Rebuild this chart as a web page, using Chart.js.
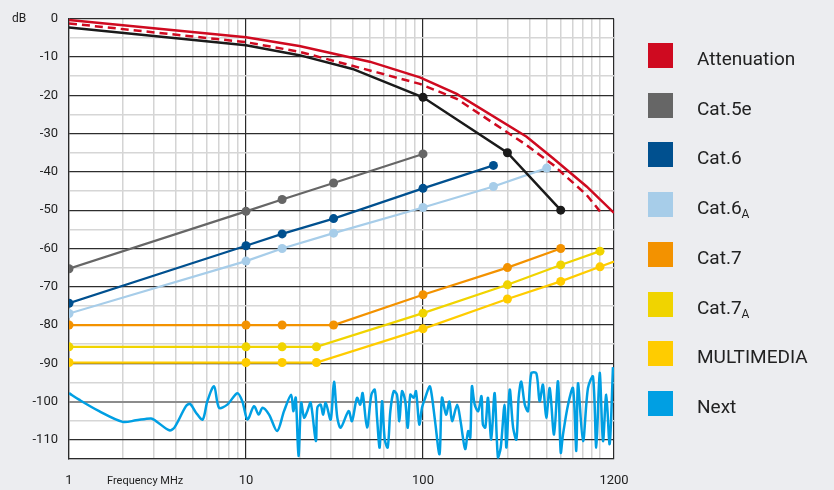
<!DOCTYPE html>
<html>
<head>
<meta charset="utf-8">
<script src="https://cdn.jsdelivr.net/npm/chart.js@4.4.1/dist/chart.umd.min.js"></script>
<style>
  body { margin: 0; background: #ecedf0; }
  #wrap { position: relative; width: 834px; height: 490px; }
  #legend { position: absolute; left: 0; top: 0; }
  .item { position: absolute; left: 648px; height: 25px; }
  .sw { position: absolute; left: 0; top: 0; width: 25px; height: 25px; }
  .lbl { position: absolute; left: 49px; top: 6px; font: 19px Roboto, sans-serif; color: #222; white-space: nowrap; line-height: 19px; }
  .lbl sub { font-size: 12px; vertical-align: -4px; line-height: 0; }
</style>
</head>
<body>
<div id="wrap">
  <canvas id="chart"></canvas>
  <div id="legend"></div>
</div>
<script>
// axes
const xGridValues = [1, 2, 3, 4, 5, 6, 7, 8, 9, 10, 20, 30, 40, 50, 60, 70, 80, 90, 100,
  200, 300, 400, 500, 600, 700, 800, 900, 1000, 1200];
const xTickLabels = [1, 10, 100, 1200];
const xTitle = "Frequency MHz";
const yUnit = "dB";

// attenuation (solid red), limit (dashed red), black curve
const attFreq = [1, 10, 20, 50, 96, 155, 385, 545, 840, 1200];
const attValues = [-0.3, -4.8, -7.1, -11.2, -15.3, -19.6, -30.8, -36.5, -43.8, -50.7];
const attLimitFreq = [1, 10, 20, 55, 96, 155, 385, 545, 840, 1000];
const attLimitValues = [-1.2, -6.1, -8.6, -14, -17, -20.9, -33, -38.2, -46, -50.3];
const blackFreq = [1, 10, 20, 40, 100, 300, 600];
const blackValues = [-2.3, -6.9, -9.5, -13.1, -20.5, -35, -50];

const cat5eFreq = [1, 10, 16, 31.25, 100];
const cat5eValues = [-65.3, -50.3, -47.2, -42.9, -35.3];
const cat6Freq = [1, 10, 16, 31.25, 100, 250];
const cat6Values = [-74.3, -59.3, -56.2, -52.2, -44.3, -38.3];
const cat6aFreq = [1, 10, 16, 31.25, 100, 250, 500];
const cat6aValues = [-77, -63.3, -60, -56, -49.3, -43.8, -39];
const cat7Freq = [1, 10, 16, 31.25, 100, 300, 600];
const cat7Values = [-80, -80, -80, -80, -72.1, -65, -60];
const cat7aFreq = [1, 10, 16, 25, 100, 300, 600, 1000];
const cat7aValues = [-85.7, -85.7, -85.7, -85.7, -76.9, -69.5, -64.3, -60.7];
const multiFreq = [1, 10, 16, 25, 100, 300, 600, 1000, 1200];
const multiValues = [-89.8, -89.8, -89.8, -89.8, -81, -73.2, -68.6, -64.8, -63.4];

const nextFreq = [
  1, 1.14, 1.48, 2.01, 2.39, 2.91, 3.1, 3.69, 3.94, 4.58,
  4.83, 5.22, 5.69, 6.05, 6.6, 7.04, 7.84, 8.93, 9.53, 10.2,
  11.1, 11.8, 12.4, 13.5, 15.0, 16.4, 18.0, 18.5, 19.1, 19.8,
  20.5, 21.3, 22.2, 23.2, 24.8, 25.3, 26.4, 27.3, 28.2, 30.1,
  31.4, 32.8, 34.3, 38.0, 39.7, 42.4, 44.2, 45.6, 48.3, 51.1,
  53.4, 55.0, 56.9, 58.7, 60.8, 63.2, 65.4, 68.3, 71.3, 73.5,
  76.1, 79.4, 82.0, 84.8, 88.6, 91.3, 95.3, 98.7, 103, 109,
  112, 117, 124, 128, 135, 141, 146, 156, 163, 173,
  180, 185, 189, 196, 205, 214, 218, 225, 233, 243,
  254, 265, 275, 289, 296, 309, 323, 337, 347, 359,
  376, 392, 409, 437, 456, 476, 497, 520, 550, 579,
  600, 618, 660, 704, 735, 751, 802, 855, 913, 953,
  996, 1040, 1085, 1134, 1184
];
const nextValues = [
  -97.8, -99.5, -102.5, -105.3, -104.9, -104.4, -105.1, -107.5, -106.8, -101.2,
  -100.6, -102.9, -104.7, -99.9, -96.0, -101.6, -100.8, -97.8, -99.9, -104.7,
  -101.2, -103.4, -101.6, -103.4, -107.7, -102.5, -98.2, -102.5, -99.0, -114.2,
  -100.3, -104.2, -102.5, -100.3, -110.3, -101.6, -100.8, -103.4, -100.3, -104.7,
  -94.8, -104.2, -106.8, -102.5, -105.1, -99.0, -100.8, -97.8, -106.8, -98.2,
  -96.9, -104.2, -112.0, -99.9, -109.9, -112.0, -102.5, -97.3, -98.2, -105.1,
  -97.3, -99.9, -106.8, -98.2, -99.0, -97.3, -106.0, -101.6, -99.0, -96.0,
  -98.2, -105.1, -113.7, -99.0, -103.4, -100.0, -105.1, -100.8, -105.1, -112.4,
  -107.7, -109.4, -96.0, -100.8, -102.5, -98.6, -106.0, -106.8, -99.0, -109.9,
  -97.8, -114.5, -112.0, -100.8, -112.0, -96.9, -106.8, -109.9, -99.0, -94.8,
  -100.8, -102.5, -92.6, -92.6, -99.9, -95.6, -104.2, -96.5, -108.6, -94.7,
  -113.3, -108.6, -100.8, -96.5, -112.9, -95.2, -110.3, -96.5, -93.5, -112.0,
  -92.5, -110.3, -98.2, -111.1, -91.0
];

const legendLabels = ["Attenuation", "Cat.5e", "Cat.6", "Cat.6", "Cat.7", "Cat.7", "MULTIMEDIA", "Next"];
const legendSubs = ["", "", "", "A", "", "A", "", ""];
const legendColors = ["#cf0a20", "#666666", "#00508f", "#a7cde9", "#f39200", "#f0d400", "#ffcc00", "#009fe3"];

function pts(xs, ys) {
  return xs.map(function (x, i) { return { x: x, y: ys[i] }; });
}

function series(data, color, opts) {
  return Object.assign({
    data: data,
    borderColor: color,
    backgroundColor: color,
    pointBackgroundColor: color,
    pointBorderWidth: 0,
    borderWidth: 2.2,
    pointRadius: 4.5,
    tension: 0,
    fill: false,
  }, opts || {});
}

const decor = {
  id: "decor",
  beforeDraw(chart) {
    const a = chart.chartArea;
    const ctx = chart.ctx;
    ctx.save();
    ctx.fillStyle = "#ffffff";
    ctx.fillRect(a.left, a.top, a.right - a.left, a.bottom - a.top);
    ctx.restore();
  },
  afterDraw(chart) {
    const ctx = chart.ctx;
    const a = chart.chartArea;
    ctx.save();
    ctx.fillStyle = "#1e1e1e";
    ctx.textBaseline = "middle";
    ctx.textAlign = "left";
    ctx.font = "12px Roboto";
    ctx.fillText(yUnit, 12, chart.scales.y.getPixelForValue(0));
    ctx.font = "11px Roboto";
    ctx.fillText(xTitle, a.left + 38, a.bottom + 22);
    ctx.restore();
  },
};

Chart.defaults.font.family = "Roboto";

new Chart(document.getElementById("chart"), {
  type: "line",
  data: {
    datasets: [
      series(pts(attFreq, attValues), "#cf0a20", { pointRadius: 0, borderWidth: 2.5 }),
      series(pts(attLimitFreq, attLimitValues), "#cf0a20", { pointRadius: 0, borderWidth: 2.5, borderDash: [8, 5] }),
      series(pts(blackFreq, blackValues), "#1a1a1a", {
        borderWidth: 2.5,
        pointRadius: function (c) { return c.dataIndex >= 4 ? 4.5 : 0; },
      }),
      series(pts(cat5eFreq, cat5eValues), "#666666"),
      series(pts(cat6Freq, cat6Values), "#00508f"),
      series(pts(cat6aFreq, cat6aValues), "#a7cde9"),
      series(pts(cat7Freq, cat7Values), "#f39200"),
      series(pts(cat7aFreq, cat7aValues), "#f0d400"),
      series(pts(multiFreq, multiValues), "#ffcc00", {
        pointRadius: function (c) { return c.dataIndex < 8 ? 4.5 : 0; },
      }),
      series(pts(nextFreq, nextValues), "#009fe3", { pointRadius: 0, borderWidth: 2.5, tension: 0.3 }),
    ],
  },
  options: {
    responsive: true,
    maintainAspectRatio: false,
    animation: false,
    events: [],
    layout: { padding: { left: 0, right: 220, top: 16, bottom: 0 } },
    plugins: { legend: { display: false }, tooltip: { enabled: false } },
    scales: {
      x: {
        type: "logarithmic",
        min: 1,
        max: 1200,
        afterBuildTicks: function (scale) {
          scale.ticks = xGridValues.map(function (v) { return { value: v }; });
        },
        afterFit: function (scale) { scale.height = 31; },
        ticks: {
          autoSkip: false,
          maxRotation: 0,
          padding: 14,
          color: "#1e1e1e",
          font: { size: 13 },
          callback: function (v) { return xTickLabels.indexOf(v) >= 0 ? String(v) : ""; },
        },
        grid: {
          drawTicks: false,
          color: function (c) { return xTickLabels.indexOf(c.tick.value) >= 0 ? "#2a2a2a" : "#d4d4d4"; },
          lineWidth: function (c) { return xTickLabels.indexOf(c.tick.value) >= 0 ? 1.2 : 1.5; },
        },
        border: { display: true, color: "#2a2a2a", width: 1.2 },
      },
      y: {
        min: -115,
        max: 0,
        afterFit: function (scale) { scale.width = 69; },
        ticks: {
          stepSize: 5,
          padding: 11,
          color: "#1e1e1e",
          font: { size: 13 },
          callback: function (v) { return v % 10 === 0 ? String(v) : ""; },
        },
        grid: {
          drawTicks: false,
          color: function (c) {
            const v = c.tick.value;
            if (v === -100) return "#8c8c8c";
            return v % 10 === 0 ? "#2d2d2d" : "#d6d6d6";
          },
          lineWidth: function (c) {
            const v = c.tick.value;
            if (v === -100) return 2;
            return v % 10 === 0 ? 1.2 : 1.6;
          },
        },
        border: { display: true, color: "#2a2a2a", width: 1.2 },
      },
    },
  },
  plugins: [decor],
});

const legend = document.getElementById("legend");
legendLabels.forEach(function (label, i) {
  const item = document.createElement("div");
  item.className = "item";
  item.style.top = (43 + i * 49.7) + "px";
  const sw = document.createElement("div");
  sw.className = "sw";
  sw.style.background = legendColors[i];
  const lbl = document.createElement("div");
  lbl.className = "lbl";
  lbl.textContent = label;
  if (legendSubs[i]) {
    const sub = document.createElement("sub");
    sub.textContent = legendSubs[i];
    lbl.appendChild(sub);
  }
  item.appendChild(sw);
  item.appendChild(lbl);
  legend.appendChild(item);
});
</script>
</body>
</html>
